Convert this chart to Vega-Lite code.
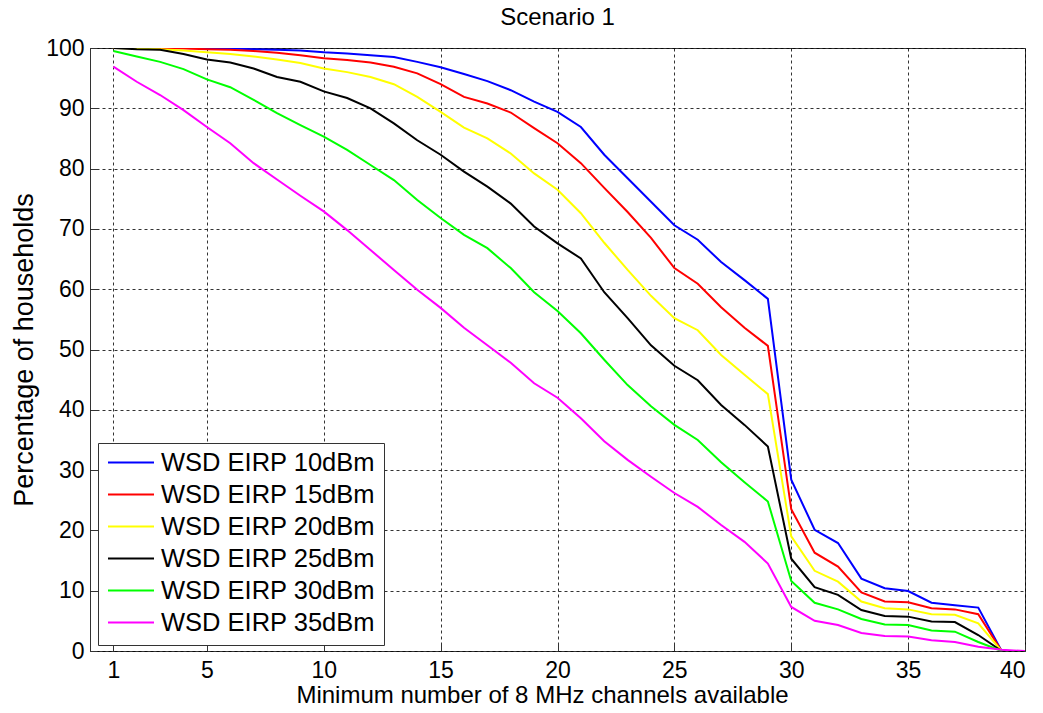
{
  "$schema": "https://vega.github.io/schema/vega-lite/v6.json",
  "width": 935,
  "height": 603,
  "autosize": {"type": "none"},
  "padding": {"left": 90, "top": 48, "right": 18, "bottom": 62},
  "background": "white",
  "title": {"text": "Scenario 1", "fontSize": 24, "fontWeight": "normal", "font": "Liberation Sans", "color": "#000", "baseline": "alphabetic", "offset": 10, "dy": 22},
  "data": {
    "values": [
      {"x": 1, "WSD EIRP 10dBm": 100, "WSD EIRP 15dBm": 100, "WSD EIRP 20dBm": 100, "WSD EIRP 25dBm": 100, "WSD EIRP 30dBm": 99.5, "WSD EIRP 35dBm": 96.9},
      {"x": 2, "WSD EIRP 10dBm": 100, "WSD EIRP 15dBm": 100, "WSD EIRP 20dBm": 99.9, "WSD EIRP 25dBm": 99.8, "WSD EIRP 30dBm": 98.6, "WSD EIRP 35dBm": 94.4},
      {"x": 3, "WSD EIRP 10dBm": 100, "WSD EIRP 15dBm": 100, "WSD EIRP 20dBm": 99.8, "WSD EIRP 25dBm": 99.7, "WSD EIRP 30dBm": 97.7, "WSD EIRP 35dBm": 92.2},
      {"x": 4, "WSD EIRP 10dBm": 100, "WSD EIRP 15dBm": 99.9, "WSD EIRP 20dBm": 99.6, "WSD EIRP 25dBm": 99.0, "WSD EIRP 30dBm": 96.5, "WSD EIRP 35dBm": 89.7},
      {"x": 5, "WSD EIRP 10dBm": 100, "WSD EIRP 15dBm": 99.8, "WSD EIRP 20dBm": 99.3, "WSD EIRP 25dBm": 98.1, "WSD EIRP 30dBm": 94.8, "WSD EIRP 35dBm": 86.9},
      {"x": 6, "WSD EIRP 10dBm": 99.9, "WSD EIRP 15dBm": 99.7, "WSD EIRP 20dBm": 99.0, "WSD EIRP 25dBm": 97.6, "WSD EIRP 30dBm": 93.5, "WSD EIRP 35dBm": 84.2},
      {"x": 7, "WSD EIRP 10dBm": 99.8, "WSD EIRP 15dBm": 99.5, "WSD EIRP 20dBm": 98.6, "WSD EIRP 25dBm": 96.6, "WSD EIRP 30dBm": 91.4, "WSD EIRP 35dBm": 80.9},
      {"x": 8, "WSD EIRP 10dBm": 99.7, "WSD EIRP 15dBm": 99.2, "WSD EIRP 20dBm": 98.1, "WSD EIRP 25dBm": 95.2, "WSD EIRP 30dBm": 89.2, "WSD EIRP 35dBm": 78.2},
      {"x": 9, "WSD EIRP 10dBm": 99.6, "WSD EIRP 15dBm": 98.8, "WSD EIRP 20dBm": 97.5, "WSD EIRP 25dBm": 94.4, "WSD EIRP 30dBm": 87.2, "WSD EIRP 35dBm": 75.5},
      {"x": 10, "WSD EIRP 10dBm": 99.3, "WSD EIRP 15dBm": 98.3, "WSD EIRP 20dBm": 96.6, "WSD EIRP 25dBm": 92.8, "WSD EIRP 30dBm": 85.3, "WSD EIRP 35dBm": 72.9},
      {"x": 11, "WSD EIRP 10dBm": 99.1, "WSD EIRP 15dBm": 98.0, "WSD EIRP 20dBm": 96.0, "WSD EIRP 25dBm": 91.7, "WSD EIRP 30dBm": 83.1, "WSD EIRP 35dBm": 69.8},
      {"x": 12, "WSD EIRP 10dBm": 98.8, "WSD EIRP 15dBm": 97.6, "WSD EIRP 20dBm": 95.2, "WSD EIRP 25dBm": 90.0, "WSD EIRP 30dBm": 80.6, "WSD EIRP 35dBm": 66.5},
      {"x": 13, "WSD EIRP 10dBm": 98.5, "WSD EIRP 15dBm": 96.9, "WSD EIRP 20dBm": 94.0, "WSD EIRP 25dBm": 87.5, "WSD EIRP 30dBm": 78.1, "WSD EIRP 35dBm": 63.2},
      {"x": 14, "WSD EIRP 10dBm": 97.7, "WSD EIRP 15dBm": 95.8, "WSD EIRP 20dBm": 91.9, "WSD EIRP 25dBm": 84.7, "WSD EIRP 30dBm": 74.8, "WSD EIRP 35dBm": 59.9},
      {"x": 15, "WSD EIRP 10dBm": 96.8, "WSD EIRP 15dBm": 94.0, "WSD EIRP 20dBm": 89.4, "WSD EIRP 25dBm": 82.3, "WSD EIRP 30dBm": 71.8, "WSD EIRP 35dBm": 56.9},
      {"x": 16, "WSD EIRP 10dBm": 95.7, "WSD EIRP 15dBm": 91.9, "WSD EIRP 20dBm": 86.8, "WSD EIRP 25dBm": 79.5, "WSD EIRP 30dBm": 69.0, "WSD EIRP 35dBm": 53.6},
      {"x": 17, "WSD EIRP 10dBm": 94.5, "WSD EIRP 15dBm": 90.8, "WSD EIRP 20dBm": 85.0, "WSD EIRP 25dBm": 77.0, "WSD EIRP 30dBm": 66.8, "WSD EIRP 35dBm": 50.7},
      {"x": 18, "WSD EIRP 10dBm": 93.0, "WSD EIRP 15dBm": 89.3, "WSD EIRP 20dBm": 82.5, "WSD EIRP 25dBm": 74.2, "WSD EIRP 30dBm": 63.5, "WSD EIRP 35dBm": 47.8},
      {"x": 19, "WSD EIRP 10dBm": 91.1, "WSD EIRP 15dBm": 86.7, "WSD EIRP 20dBm": 79.2, "WSD EIRP 25dBm": 70.4, "WSD EIRP 30dBm": 59.5, "WSD EIRP 35dBm": 44.4},
      {"x": 20, "WSD EIRP 10dBm": 89.4, "WSD EIRP 15dBm": 84.2, "WSD EIRP 20dBm": 76.5, "WSD EIRP 25dBm": 67.6, "WSD EIRP 30dBm": 56.4, "WSD EIRP 35dBm": 42.0},
      {"x": 21, "WSD EIRP 10dBm": 86.9, "WSD EIRP 15dBm": 80.9, "WSD EIRP 20dBm": 72.6, "WSD EIRP 25dBm": 65.1, "WSD EIRP 30dBm": 52.7, "WSD EIRP 35dBm": 38.6},
      {"x": 22, "WSD EIRP 10dBm": 82.3, "WSD EIRP 15dBm": 76.8, "WSD EIRP 20dBm": 67.7, "WSD EIRP 25dBm": 59.5, "WSD EIRP 30dBm": 48.3, "WSD EIRP 35dBm": 34.8},
      {"x": 23, "WSD EIRP 10dBm": 78.4, "WSD EIRP 15dBm": 72.8, "WSD EIRP 20dBm": 63.2, "WSD EIRP 25dBm": 55.2, "WSD EIRP 30dBm": 44.1, "WSD EIRP 35dBm": 31.7},
      {"x": 24, "WSD EIRP 10dBm": 74.5, "WSD EIRP 15dBm": 68.5, "WSD EIRP 20dBm": 58.9, "WSD EIRP 25dBm": 50.7, "WSD EIRP 30dBm": 40.6, "WSD EIRP 35dBm": 28.9},
      {"x": 25, "WSD EIRP 10dBm": 70.6, "WSD EIRP 15dBm": 63.5, "WSD EIRP 20dBm": 55.2, "WSD EIRP 25dBm": 47.3, "WSD EIRP 30dBm": 37.5, "WSD EIRP 35dBm": 26.2},
      {"x": 26, "WSD EIRP 10dBm": 68.2, "WSD EIRP 15dBm": 60.9, "WSD EIRP 20dBm": 53.2, "WSD EIRP 25dBm": 44.9, "WSD EIRP 30dBm": 35.0, "WSD EIRP 35dBm": 23.9},
      {"x": 27, "WSD EIRP 10dBm": 64.5, "WSD EIRP 15dBm": 57.0, "WSD EIRP 20dBm": 49.1, "WSD EIRP 25dBm": 40.8, "WSD EIRP 30dBm": 31.3, "WSD EIRP 35dBm": 20.9},
      {"x": 28, "WSD EIRP 10dBm": 61.5, "WSD EIRP 15dBm": 53.6, "WSD EIRP 20dBm": 45.8, "WSD EIRP 25dBm": 37.5, "WSD EIRP 30dBm": 28.0, "WSD EIRP 35dBm": 18.1},
      {"x": 29, "WSD EIRP 10dBm": 58.4, "WSD EIRP 15dBm": 50.6, "WSD EIRP 20dBm": 42.6, "WSD EIRP 25dBm": 33.9, "WSD EIRP 30dBm": 24.8, "WSD EIRP 35dBm": 14.5},
      {"x": 30, "WSD EIRP 10dBm": 28.4, "WSD EIRP 15dBm": 23.5, "WSD EIRP 20dBm": 19.0, "WSD EIRP 25dBm": 15.3, "WSD EIRP 30dBm": 11.6, "WSD EIRP 35dBm": 7.3},
      {"x": 31, "WSD EIRP 10dBm": 20.1, "WSD EIRP 15dBm": 16.3, "WSD EIRP 20dBm": 13.3, "WSD EIRP 25dBm": 10.6, "WSD EIRP 30dBm": 8.0, "WSD EIRP 35dBm": 5.0},
      {"x": 32, "WSD EIRP 10dBm": 17.9, "WSD EIRP 15dBm": 14.0, "WSD EIRP 20dBm": 11.5, "WSD EIRP 25dBm": 9.3, "WSD EIRP 30dBm": 6.9, "WSD EIRP 35dBm": 4.3},
      {"x": 33, "WSD EIRP 10dBm": 12.0, "WSD EIRP 15dBm": 9.7, "WSD EIRP 20dBm": 8.2, "WSD EIRP 25dBm": 6.8, "WSD EIRP 30dBm": 5.3, "WSD EIRP 35dBm": 3.0},
      {"x": 34, "WSD EIRP 10dBm": 10.4, "WSD EIRP 15dBm": 8.2, "WSD EIRP 20dBm": 7.1, "WSD EIRP 25dBm": 5.8, "WSD EIRP 30dBm": 4.4, "WSD EIRP 35dBm": 2.5},
      {"x": 35, "WSD EIRP 10dBm": 9.95, "WSD EIRP 15dBm": 8.1, "WSD EIRP 20dBm": 6.9, "WSD EIRP 25dBm": 5.7, "WSD EIRP 30dBm": 4.3, "WSD EIRP 35dBm": 2.4},
      {"x": 36, "WSD EIRP 10dBm": 8.0, "WSD EIRP 15dBm": 7.1, "WSD EIRP 20dBm": 6.1, "WSD EIRP 25dBm": 4.9, "WSD EIRP 30dBm": 3.4, "WSD EIRP 35dBm": 1.8},
      {"x": 37, "WSD EIRP 10dBm": 7.6, "WSD EIRP 15dBm": 6.9, "WSD EIRP 20dBm": 6.0, "WSD EIRP 25dBm": 4.8, "WSD EIRP 30dBm": 3.2, "WSD EIRP 35dBm": 1.5},
      {"x": 38, "WSD EIRP 10dBm": 7.2, "WSD EIRP 15dBm": 6.1, "WSD EIRP 20dBm": 4.6, "WSD EIRP 25dBm": 2.65, "WSD EIRP 30dBm": 1.5, "WSD EIRP 35dBm": 0.7},
      {"x": 39, "WSD EIRP 10dBm": 0, "WSD EIRP 15dBm": 0, "WSD EIRP 20dBm": 0, "WSD EIRP 25dBm": 0, "WSD EIRP 30dBm": 0, "WSD EIRP 35dBm": 0.2},
      {"x": 40, "WSD EIRP 10dBm": 0, "WSD EIRP 15dBm": 0, "WSD EIRP 20dBm": 0, "WSD EIRP 25dBm": 0, "WSD EIRP 30dBm": 0, "WSD EIRP 35dBm": 0}
    ]
  },
  "transform": [
    {"fold": ["WSD EIRP 10dBm", "WSD EIRP 15dBm", "WSD EIRP 20dBm", "WSD EIRP 25dBm", "WSD EIRP 30dBm", "WSD EIRP 35dBm"], "as": ["series", "value"]}
  ],
  "mark": {"type": "line", "strokeWidth": 2, "clip": true},
  "encoding": {
    "x": {
      "field": "x", "type": "quantitative",
      "scale": {"domain": [0, 40], "nice": false, "zero": false},
      "axis": {"title": "Minimum number of 8 MHz channels available", "values": [1, 5, 10, 15, 20, 25, 30, 35, 40], "titleX": 452}
    },
    "y": {
      "field": "value", "type": "quantitative",
      "scale": {"domain": [0, 100], "nice": false},
      "axis": {"title": "Percentage of households", "values": [0, 10, 20, 30, 40, 50, 60, 70, 80, 90, 100]}
    },
    "color": {
      "field": "series", "type": "nominal",
      "scale": {
        "domain": ["WSD EIRP 10dBm", "WSD EIRP 15dBm", "WSD EIRP 20dBm", "WSD EIRP 25dBm", "WSD EIRP 30dBm", "WSD EIRP 35dBm"],
        "range": ["#0000FF", "#FF0000", "#FFFF00", "#000000", "#00FF00", "#FF00FF"]
      },
      "legend": {
        "title": null,
        "orient": "none",
        "legendX": 8,
        "legendY": 395,
        "fillColor": "white",
        "strokeColor": "#333",
        "padding": 9,
        "symbolType": "stroke",
        "symbolSize": 2116,
        "symbolStrokeWidth": 2,
        "clipHeight": 21,
        "rowPadding": 6,
        "labelFontSize": 25.5,
        "labelFont": "Liberation Sans",
        "labelColor": "#000",
        "labelOffset": 6,
        "labelLimit": 400
      }
    }
  },
  "config": {
    "font": "Liberation Sans",
    "view": {"stroke": "#333", "strokeWidth": 1},
    "axis": {
      "domain": false,
      "grid": true,
      "gridColor": "#000",
      "gridDash": [3, 3],
      "gridOpacity": 0.8,
      "gridWidth": 1,
      "ticks": true,
      "tickSize": -7,
      "tickColor": "#333",
      "labelFontSize": 23,
      "labelColor": "#000",
      "titleFontSize": 24,
      "titleFontWeight": "normal",
      "titleColor": "#000",
      "labelFont": "Liberation Sans",
      "titleFont": "Liberation Sans"
    },
    "axisX": {"labelPadding": 15, "titlePadding": 1},
    "axisY": {"labelPadding": 13, "titlePadding": 7, "titleFontSize": 27}
  }
}
